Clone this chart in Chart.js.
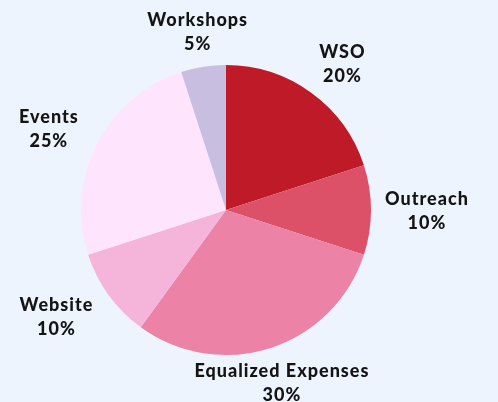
<!DOCTYPE html>
<html>
<head>
<meta charset="utf-8">
<script src="https://cdn.jsdelivr.net/npm/chart.js@4"></script>
<style>
  html, body { margin: 0; padding: 0; background: #EEF4FE; }
  #wrap { width: 498px; height: 402px; }
</style>
</head>
<body>
<div id="wrap"><canvas id="myChart" width="498" height="402"></canvas></div>
<script>
const categories = ['WSO', 'Outreach', 'Equalized Expenses', 'Website', 'Events', 'Workshops']
const shares = [20, 10, 30, 10, 25, 5]
const sliceColors = ['#BE1A27', '#DC5068', '#EC82A6', '#F5B4DA', '#FEE4FD', '#C8BFE0']

const labelFont = '900 18px Lato'

// labels outside the pie, placed from each arc's own geometry
const outsideLabels = {
    id: 'outsideLabels',
    afterDraw(chart) {
        const ctx = chart.ctx
        const meta = chart.getDatasetMeta(0)
        const total = shares.reduce((a, b) => a + b, 0)
        ctx.save()
        ctx.font = labelFont
        ctx.letterSpacing = '1px'
        ctx.fillStyle = '#141414'
        ctx.textAlign = 'center'
        ctx.textBaseline = 'middle'
        const lineH = 24
        meta.data.forEach((arc, i) => {
            const p = arc.getProps(['x', 'y', 'startAngle', 'endAngle', 'outerRadius'], true)
            const mid = (p.startAngle + p.endAngle) / 2
            const ux = Math.cos(mid), uy = Math.sin(mid)
            const lines = [categories[i], Math.round(shares[i] / total * 100) + '%']
            const w = Math.max(...lines.map(t => ctx.measureText(t).width))
            const h = lineH * 2
            const r = p.outerRadius
            let cx = p.x + ux * (r + 36)
            let cy = p.y + uy * (r + 36) + 1
            // push sideways so the box clears the circle horizontally
            const gap = 14
            const top = cy - h / 2, bot = cy + h / 2
            if (!(top > p.y + r || bot < p.y - r)) {
                let dy = 0
                if (top > p.y) dy = top - p.y
                else if (bot < p.y) dy = p.y - bot
                const half = Math.sqrt(Math.max(0, r * r - dy * dy))
                if (ux > 0) {
                    const need = p.x + half + gap
                    if (cx - w / 2 < need) cx = need + w / 2
                } else {
                    const need = p.x - half - gap
                    if (cx + w / 2 > need) cx = need - w / 2
                }
            }
            ctx.fillText(lines[0], cx, cy - lineH / 2)
            ctx.fillText(lines[1], cx, cy + lineH / 2)
        })
        ctx.restore()
    }
}

const canvas = document.getElementById('myChart')
let myChart

const config = {
    type: 'pie',
    data: {
        labels: categories,
        datasets: [{
            data: shares,
            backgroundColor: sliceColors,
            borderWidth: 0
        }]
    },
    options: {
        responsive: false,
        animation: false,
        layout: {
            padding: { top: 65, bottom: 47, left: 81, right: 127 }
        },
        plugins: {
            legend: { display: false },
            tooltip: { enabled: false }
        }
    },
    plugins: [outsideLabels]
}

if (canvas) {
    myChart = new Chart(canvas, config)
}
</script>
</body>
</html>
